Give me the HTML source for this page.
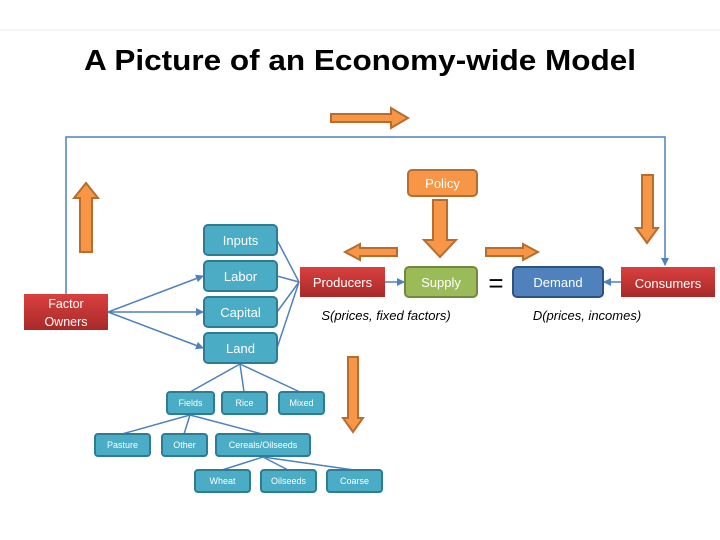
<!DOCTYPE html>
<html><head><meta charset="utf-8"><style>
html,body{margin:0;padding:0;background:#fff;}
svg{display:block;}
text{font-family:"Liberation Sans",sans-serif;}
</style></head><body>
<svg width="720" height="540" viewBox="0 0 720 540" xmlns="http://www.w3.org/2000/svg">
<defs>
<linearGradient id="red" x1="0" y1="0" x2="0" y2="1"><stop offset="0" stop-color="#d9403f"/><stop offset="1" stop-color="#a82a28"/></linearGradient>
<marker id="ah" markerWidth="8" markerHeight="8" refX="7" refY="4" orient="auto" markerUnits="userSpaceOnUse"><path d="M0,0 L8,4 L0,8 z" fill="#4f81bd"/></marker>
</defs>
<line x1="0" y1="30" x2="720" y2="30" stroke="#eee"/>
<text x="360" y="70" text-anchor="middle" font-size="29" font-weight="bold" fill="#000" textLength="552" lengthAdjust="spacingAndGlyphs">A Picture of an Economy-wide Model</text>

<!-- blue loop line -->
<polyline points="66,294 66,137 665,137 665,265" fill="none" stroke="#4f81bd" stroke-width="1.5" marker-end="url(#ah)"/>

<g fill="#f79646" stroke="#b66d2e" stroke-width="2">
<!-- top right arrow -->
<path d="M331,114 L391,114 L391,108 L408,118 L391,128 L391,122 L331,122 z"/>
<!-- left up arrow -->
<path d="M80,252 L80,198 L74,198 L86,183 L98,198 L92,198 L92,252 z"/>
<!-- policy down arrow -->
<path d="M433,200 L447,200 L447,240 L456,240 L440,257 L424,240 L433,240 z"/>
<!-- left arrow -->
<path d="M397,248 L360,248 L360,244 L345,252 L360,260 L360,256 L397,256 z"/>
<!-- right arrow -->
<path d="M486,248 L523,248 L523,244 L538,252 L523,260 L523,256 L486,256 z"/>
<!-- right down arrow -->
<path d="M642,175 L653,175 L653,228 L658,228 L647,243 L636,228 L642,228 z"/>
<!-- lower down arrow -->
<path d="M348,357 L358,357 L358,418 L363,418 L353,432 L343,418 L348,418 z"/>
<!-- policy box -->
<rect x="408" y="170" width="69" height="26" rx="4"/>
</g>
<text x="442.5" y="188" text-anchor="middle" font-size="13" fill="#fff">Policy</text>

<!-- connector lines -->
<g stroke="#4f81bd" stroke-width="1.5" fill="none">
<line x1="108" y1="312" x2="203" y2="276" marker-end="url(#ah)"/>
<line x1="108" y1="312" x2="203" y2="312" marker-end="url(#ah)"/>
<line x1="108" y1="312" x2="203" y2="348" marker-end="url(#ah)"/>
<line x1="277" y1="240" x2="299" y2="282"/>
<line x1="277" y1="276" x2="299" y2="282"/>
<line x1="277" y1="312" x2="299" y2="282"/>
<line x1="277" y1="348" x2="299" y2="282"/>
<line x1="385" y1="282" x2="404" y2="282" marker-end="url(#ah)"/>
<line x1="621" y1="282" x2="604" y2="282" marker-end="url(#ah)"/>
<line x1="190" y1="392" x2="240" y2="364"/>
<line x1="244" y1="392" x2="240" y2="364"/>
<line x1="300" y1="392" x2="240" y2="364"/>
<line x1="122" y1="434" x2="190" y2="415"/>
<line x1="184" y1="434" x2="190" y2="415"/>
<line x1="262" y1="434" x2="190" y2="415"/>
<line x1="222" y1="470" x2="263" y2="457"/>
<line x1="288" y1="470" x2="263" y2="457"/>
<line x1="354" y1="470" x2="263" y2="457"/>
</g>

<!-- teal boxes -->
<g fill="#4bacc6" stroke="#2e7c94" stroke-width="2">
<rect x="204" y="225" width="73" height="30" rx="4"/>
<rect x="204" y="261" width="73" height="30" rx="4"/>
<rect x="204" y="297" width="73" height="30" rx="4"/>
<rect x="204" y="333" width="73" height="30" rx="4"/>
<rect x="167" y="392" width="47" height="22" rx="3"/>
<rect x="222" y="392" width="45" height="22" rx="3"/>
<rect x="279" y="392" width="45" height="22" rx="3"/>
<rect x="95" y="434" width="55" height="22" rx="3"/>
<rect x="162" y="434" width="45" height="22" rx="3"/>
<rect x="216" y="434" width="94" height="22" rx="3"/>
<rect x="195" y="470" width="55" height="22" rx="3"/>
<rect x="261" y="470" width="55" height="22" rx="3"/>
<rect x="327" y="470" width="55" height="22" rx="3"/>
</g>
<g fill="#fff" text-anchor="middle" font-size="13">
<text x="240.5" y="245">Inputs</text>
<text x="240.5" y="281">Labor</text>
<text x="240.5" y="317">Capital</text>
<text x="240.5" y="353">Land</text>
</g>
<g fill="#fff" text-anchor="middle" font-size="9">
<text x="190.5" y="406">Fields</text>
<text x="244.5" y="406">Rice</text>
<text x="301.5" y="406">Mixed</text>
<text x="122.5" y="448">Pasture</text>
<text x="184.5" y="448">Other</text>
<text x="263" y="448">Cereals/Oilseeds</text>
<text x="222.5" y="484">Wheat</text>
<text x="288.5" y="484">Oilseeds</text>
<text x="354.5" y="484">Coarse</text>
</g>

<!-- red boxes -->
<rect x="24" y="294" width="84" height="36" fill="url(#red)"/>
<text x="66" y="308" text-anchor="middle" font-size="12.5" fill="#fff">Factor</text>
<text x="66" y="326" text-anchor="middle" font-size="12.5" fill="#fff">Owners</text>
<rect x="300" y="267" width="85" height="30" fill="url(#red)"/>
<text x="342.5" y="287" text-anchor="middle" font-size="13" fill="#fff">Producers</text>
<rect x="621" y="267" width="94" height="30" fill="url(#red)"/>
<text x="668" y="288" text-anchor="middle" font-size="13" fill="#fff">Consumers</text>

<rect x="405" y="267" width="72" height="30" rx="4" fill="#9bbb59" stroke="#71893f" stroke-width="2"/>
<text x="441" y="287" text-anchor="middle" font-size="13" fill="#fff">Supply</text>
<text x="496" y="292" text-anchor="middle" font-size="26" fill="#000">=</text>
<rect x="513" y="267" width="90" height="30" rx="4" fill="#4f81bd" stroke="#2c5282" stroke-width="2"/>
<text x="558" y="287" text-anchor="middle" font-size="13" fill="#fff">Demand</text>

<text x="386" y="320" text-anchor="middle" font-size="13" font-style="italic" fill="#000">S(prices, fixed factors)</text>
<text x="587" y="320" text-anchor="middle" font-size="13" font-style="italic" fill="#000">D(prices, incomes)</text>
</svg>
</body></html>
